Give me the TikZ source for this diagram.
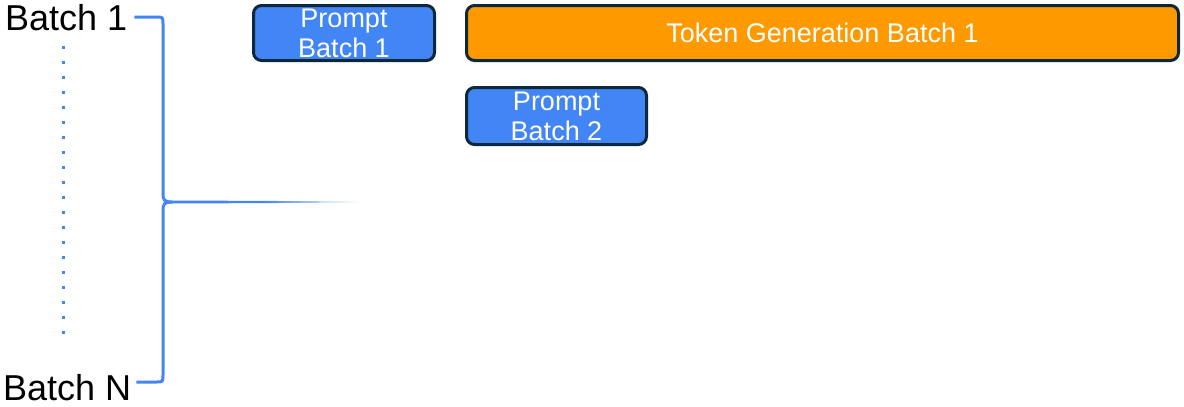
\documentclass[tikz,border=0pt]{standalone}
\usepackage{fontspec}
\setmainfont{Liberation Sans}
\usetikzlibrary{positioning}
\definecolor{promptblue}{RGB}{66,133,244}
\definecolor{boxedge}{RGB}{12,40,58}
\definecolor{tokenorange}{RGB}{255,153,0}

\begin{document}
\begin{tikzpicture}[x=1pt,y=1pt,yscale=-1,xscale=1,
  stage/.style={draw=boxedge, line width=3pt, rounded corners=8pt, text=white, align=center, inner sep=0pt, minimum height=55pt, font=\fontsize{27}{30}\selectfont},
  batchlabel/.style={inner sep=0pt, font=\fontsize{36}{40}\selectfont},
  brace/.style={draw=promptblue, line width=3pt},
  dotline/.style={draw=promptblue, line width=3pt, dash pattern=on 3pt off 12pt}]
\useasboundingbox (0,0) rectangle (1184,407);

% Text Node
\node[batchlabel, anchor=west] (batch1) at (5,18) {Batch 1};
% Text Node
\node[batchlabel, anchor=west] (batchN) at (3,388) {Batch N};

%Dotted Line
\coordinate (dottop) at (63,46);
\coordinate (dotbot) at (63,340);
\draw[dotline] (dottop) -- (dotbot);

%Brace
\coordinate (tip) at (172,202);
\coordinate (fade) at (262,202);
\draw[brace] ([xshift=7pt,yshift=-1pt]batch1.east) -- (156,17) .. controls (163,17) .. (163,24) -- (163,193) .. controls (163,200) and (164,202) .. (tip);
\draw[brace] ([xshift=5pt,yshift=-6pt]batchN.east) -- (156,382) .. controls (163,382) .. (163,375) -- (163,211) .. controls (163,204) and (164,202) .. (tip);
\fill[promptblue] (tip) ++(0,-1.5) -- (262,200.9) -- (262,203.1) -- (172,203.5) -- cycle;
\shade[left color=promptblue, right color=white] (fade) ++(0,-1.1) -- (360,201.5) -- (360,202.5) -- (262,203.1) -- cycle;

% Boxes
\node[stage, fill=promptblue, minimum width=181pt] (prompt1) at (344,33) {Prompt\\Batch 1};
\node[stage, fill=tokenorange, minimum width=712pt, right=29pt of prompt1] (token1) {Token Generation Batch 1};
\node[stage, fill=promptblue, minimum width=180pt, minimum height=57pt, anchor=north west] (prompt2) at ([yshift=24pt]token1.south west) {Prompt\\Batch 2};

\end{tikzpicture}
\end{document}
